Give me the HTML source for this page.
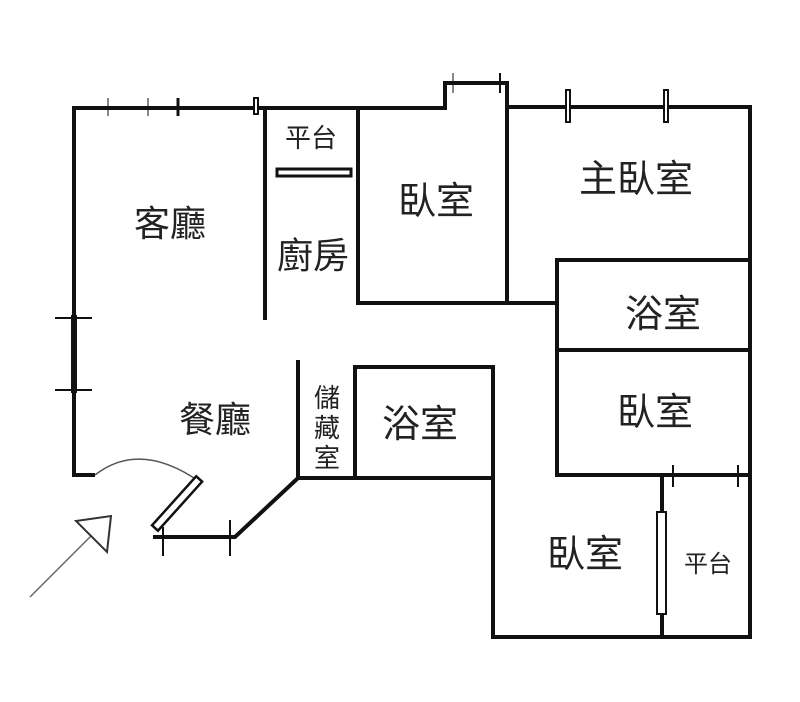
<!DOCTYPE html>
<html><head><meta charset="utf-8"><style>
html,body{margin:0;padding:0;background:#fff}
svg text{font-family:"Liberation Sans","Noto Sans CJK TC",sans-serif;fill:#222}
</style></head><body>
<svg width="800" height="697" viewBox="0 0 800 697" xmlns="http://www.w3.org/2000/svg">
<g stroke="#111" stroke-width="4" fill="none" stroke-linecap="square">
<polyline points="93,475 74,475 74,108 445,108 445,83 507,83 507,107 750,107 750,637 493,637 493,478 298,478 235,537 155,537"/>
<line x1="265" y1="108" x2="265" y2="318"/>
<line x1="358" y1="108" x2="358" y2="303"/>
<line x1="358" y1="303" x2="557" y2="303"/>
<line x1="507" y1="107" x2="507" y2="303"/>
<line x1="557" y1="260" x2="750" y2="260"/>
<line x1="557" y1="260" x2="557" y2="475"/>
<line x1="557" y1="350" x2="750" y2="350"/>
<line x1="557" y1="475" x2="750" y2="475"/>
<line x1="355" y1="367" x2="493" y2="367"/>
<line x1="355" y1="367" x2="355" y2="478"/>
<line x1="493" y1="367" x2="493" y2="478"/>
<line x1="298" y1="362" x2="298" y2="478"/>
<line x1="662" y1="475" x2="662" y2="637"/>
<line x1="74" y1="318" x2="74" y2="390" stroke-width="6"/>
</g>
<g stroke="#111" stroke-width="3" fill="#fff">
<rect x="277" y="169" width="74" height="7"/>
</g>
<g stroke="#111" stroke-width="2" fill="#fff">
<rect x="657" y="512" width="9" height="102"/>
<rect x="566" y="90" width="4" height="32"/>
<rect x="664" y="90" width="4" height="32"/>
<rect x="254" y="98" width="4" height="16"/>
</g>
<g stroke="#111" stroke-width="2">
<line x1="55" y1="318" x2="92" y2="318"/>
<line x1="55" y1="390" x2="92" y2="390"/>
<line x1="178" y1="98" x2="178" y2="116" stroke-width="3"/>
<line x1="148" y1="98" x2="148" y2="116" stroke-width="1"/>
<line x1="108" y1="98" x2="108" y2="116" stroke-width="1"/>
<line x1="163" y1="527" x2="163" y2="556"/>
<line x1="230" y1="520" x2="230" y2="556"/>
<line x1="673" y1="465" x2="673" y2="487"/>
<line x1="738" y1="465" x2="738" y2="487"/>
<line x1="453" y1="73" x2="453" y2="93" stroke-width="1"/>
<line x1="500" y1="73" x2="500" y2="93"/>
</g>
<path d="M95,475 Q140,440 200,482" stroke="#555" stroke-width="1.5" fill="none"/>
<g transform="translate(155,528) rotate(-48)">
<rect x="0" y="-4" width="66" height="8" fill="#fff" stroke="#111" stroke-width="2.5"/>
</g>
<line x1="30" y1="597" x2="92" y2="535" stroke="#666" stroke-width="1.5"/>
<polygon points="76,521 111,516 107,552" fill="#fff" stroke="#333" stroke-width="2"/>
<text x="170" y="236" font-size="36" text-anchor="middle">客廳</text>
<text x="311" y="147" font-size="26" text-anchor="middle">平台</text>
<text x="313" y="268" font-size="36" text-anchor="middle">廚房</text>
<text x="436" y="214" font-size="38" text-anchor="middle">臥室</text>
<text x="636" y="192" font-size="38" text-anchor="middle">主臥室</text>
<text x="663" y="327" font-size="38" text-anchor="middle">浴室</text>
<text x="655" y="425" font-size="38" text-anchor="middle">臥室</text>
<text x="420" y="437" font-size="38" text-anchor="middle">浴室</text>
<text x="215" y="432" font-size="36" text-anchor="middle">餐廳</text>
<text x="585" y="567" font-size="38" text-anchor="middle">臥室</text>
<text x="708" y="572" font-size="24" text-anchor="middle">平台</text>
<text x="327" y="407" font-size="26" text-anchor="middle" fill="#444">儲</text>
<text x="327" y="437" font-size="26" text-anchor="middle" fill="#444">藏</text>
<text x="327" y="467" font-size="26" text-anchor="middle" fill="#444">室</text>
</svg>
</body></html>
